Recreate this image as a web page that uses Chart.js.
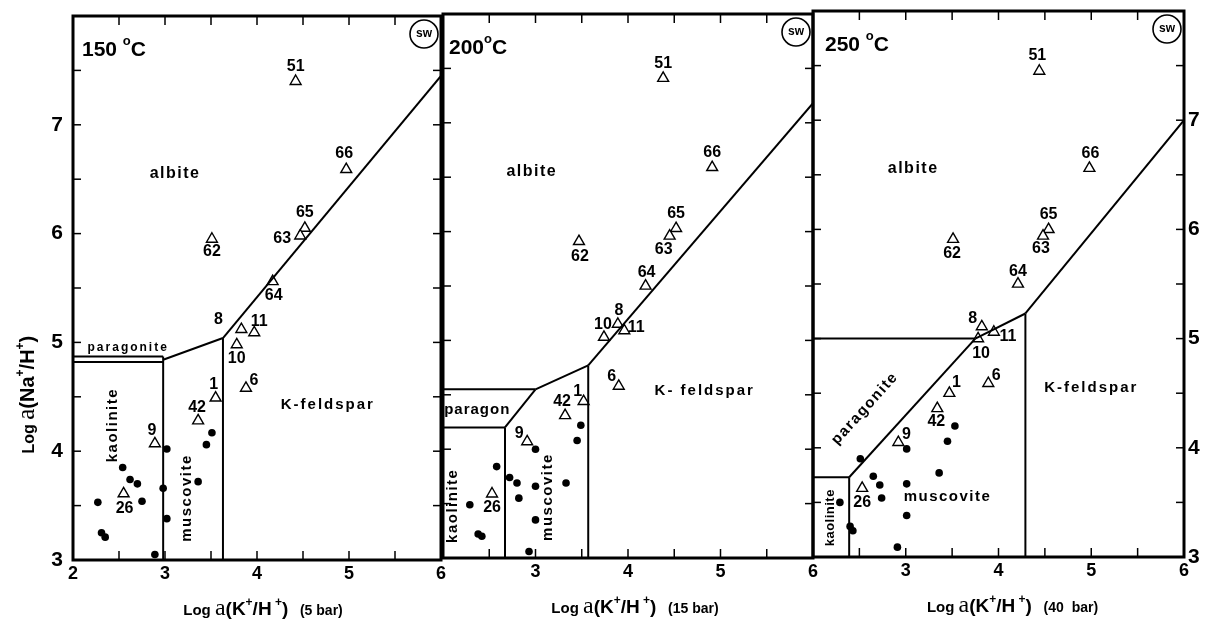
<!DOCTYPE html>
<html>
<head>
<meta charset="utf-8">
<script src="https://cdn.jsdelivr.net/npm/chart.js@4.4.1/dist/chart.umd.min.js"></script>
<style>
  html, body { margin: 0; padding: 0; background: #fff; }
  #wrap { position: relative; width: 1211px; height: 623px; overflow: hidden; background: #fff; }
  .panel { position: absolute; top: 0; }
</style>
</head>
<body>
<div id="wrap">
  <div class="panel" style="left:0px"><canvas id="c150" width="450" height="623"></canvas></div>
  <div class="panel" style="left:430px"><canvas id="c200" width="400" height="623"></canvas></div>
  <div class="panel" style="left:800px"><canvas id="c250" width="411" height="623"></canvas></div>
</div>
<script>
// ---------- DATA ----------
const xTickValues = [2, 3, 4, 5, 6];
const yTickValues = [3, 4, 5, 6, 7];
const sampleIds = ['51', '66', '65', '63', '62', '64', '8', '11', '10', '1', '6', '42', '9', '26'];

// 150 °C (5 bar)
const tri150X = [4.42, 4.97, 4.52, 4.47, 3.51, 4.17, 3.83, 3.97, 3.78, 3.55, 3.88, 3.36, 2.89, 2.55];
const tri150Y = [7.40, 6.59, 6.05, 5.98, 5.95, 5.56, 5.12, 5.09, 4.98, 4.49, 4.58, 4.28, 4.07, 3.61];
const dot150X = [2.27, 2.31, 2.35, 2.54, 2.62, 2.70, 2.75, 2.89, 2.98, 3.02, 3.02, 3.36, 3.45, 3.51];
const dot150Y = [3.53, 3.25, 3.21, 3.85, 3.74, 3.70, 3.54, 3.05, 3.66, 4.02, 3.38, 3.72, 4.06, 4.17];
const b150AlbKfs = [[3.63, 5.04], [6, 7.45]];
const b150MusKfs = [[3.63, 3], [3.63, 5.04]];
const b150AlbMus = [[2.98, 4.84], [3.63, 5.04]];
const b150KaoMus = [[2.98, 3], [2.98, 4.87]];
const b150ParTop = [[2, 4.87], [2.98, 4.87]];
const b150ParBot = [[2, 4.82], [2.98, 4.82]];

// 200 °C (15 bar)
const tri200X = [4.38, 4.91, 4.52, 4.45, 3.47, 4.19, 3.89, 3.96, 3.74, 3.52, 3.90, 3.32, 2.91, 2.53];
const tri200Y = [7.41, 6.59, 6.03, 5.96, 5.91, 5.50, 5.15, 5.09, 5.03, 4.44, 4.58, 4.31, 4.07, 3.59];
const dot200X = [2.29, 2.38, 2.42, 2.58, 2.72, 2.80, 2.82, 2.93, 3.00, 3.00, 3.00, 3.33, 3.45, 3.49];
const dot200Y = [3.49, 3.22, 3.20, 3.84, 3.74, 3.69, 3.55, 3.06, 4.00, 3.66, 3.35, 3.69, 4.08, 4.22];
const b200AlbKfs = [[3.57, 4.77], [6, 7.18]];
const b200MusKfs = [[3.57, 3], [3.57, 4.77]];
const b200AlbMus = [[3.00, 4.55], [3.57, 4.77]];
const b200ParMus = [[2.67, 4.20], [3.00, 4.55]];
const b200ParAlb = [[2, 4.55], [3.00, 4.55]];
const b200KaoPar = [[2, 4.20], [2.67, 4.20]];
const b200KaoMus = [[2.67, 3], [2.67, 4.20]];

// 250 °C (40 bar)
const tri250X = [4.44, 4.98, 4.54, 4.48, 3.51, 4.21, 3.82, 3.95, 3.78, 3.47, 3.89, 3.34, 2.92, 2.53];
const tri250Y = [7.45, 6.56, 6.00, 5.94, 5.91, 5.50, 5.11, 5.06, 5.00, 4.50, 4.59, 4.36, 4.05, 3.63];
const dot250X = [2.29, 2.40, 2.43, 2.51, 2.65, 2.72, 2.74, 2.91, 3.01, 3.01, 3.01, 3.36, 3.45, 3.53];
const dot250Y = [3.50, 3.28, 3.24, 3.90, 3.74, 3.66, 3.54, 3.09, 3.99, 3.67, 3.38, 3.77, 4.06, 4.20];
const b250AlbKfs = [[4.29, 5.23], [6, 7.00]];
const b250AlbMus = [[3.75, 5.00], [4.29, 5.23]];
const b250MusKfs = [[4.29, 3], [4.29, 5.23]];
const b250ParAlb = [[2, 5.00], [3.75, 5.00]];
const b250ParMus = [[2.39, 3.73], [3.75, 5.00]];
const b250KaoPar = [[2, 3.73], [2.39, 3.73]];
const b250KaoMus = [[2.39, 3], [2.39, 3.73]];

// mineral field names (text, x, y)
const fields150 = [['albite', 3.11, 6.55], ['paragonite', 2.60, 4.95], ['kaolinite', 2.43, 4.24], ['muscovite', 3.24, 3.57], ['K-feldspar', 4.77, 4.43]];
const fields200 = [['albite', 2.96, 6.55], ['paragon', 2.37, 4.36], ['kaolinite', 2.11, 3.48], ['muscovite', 3.13, 3.56], ['K- feldspar', 4.83, 4.54]];
const fields250 = [['albite', 3.08, 6.56], ['paragonite', 2.56, 4.36], ['kaolinite', 2.19, 3.36], ['muscovite', 3.45, 3.55], ['K-feldspar', 5.00, 4.55]];

// ---------- STYLE / LAYOUT (not data) ----------
const FONT = '"Liberation Sans", Arial, Helvetica, sans-serif';
const SERIF = '"Liberation Serif", "DejaVu Serif", serif';
// rotation (deg), font size, letter spacing per field label, same order as the field arrays
const fieldStyle150 = [[0, 16, 1.5], [0, 12, 2], [-90, 15, 1.5], [-90, 15, 1.5], [0, 15, 2]];
const fieldStyle200 = [[0, 16, 1.5], [0, 15, 1], [-90, 15, 1.5], [-90, 15, 1.5], [0, 15, 2]];
const fieldStyle250 = [[0, 16, 1.5], [-48, 15, 1.5], [-90, 13, 0.5], [0, 15, 1.5], [0, 15, 2]];
// sample number label offsets in px, same order as sampleIds
const labOff150 = [[0,-15],[-2,-16],[0,-16],[-18,3],[0,13],[1,14],[-23,-10],[5,-11],[0,14],[-2,-13],[8,-8],[-1,-13],[-3,-13],[1,15]];
const labOff200 = [[0,-15],[0,-15],[0,-15],[-6,14],[1,15],[1,-13],[1,-13],[12,-3],[-1,-13],[-6,-10],[-7,-10],[-3,-14],[-8,-8],[0,14]];
const labOff250 = [[-2,-15],[1,-15],[0,-15],[-2,13],[-1,14],[0,-12],[-9,-8],[14,5],[3,15],[7,-11],[8,-8],[-1,13],[8,-8],[0,14]];

function pts(xs, ys) { return xs.map((x, i) => ({ x: x, y: ys[i] })); }
function seg(arr) { return arr.map(p => ({ x: p[0], y: p[1] })); }

function drawParts(ctx, parts, x, y, rot, align) {
  ctx.save();
  ctx.translate(x, y);
  ctx.rotate(rot || 0);
  ctx.textBaseline = 'alphabetic';
  ctx.textAlign = 'left';
  let w = 0;
  parts.forEach(p => { ctx.font = p.f; p.w = ctx.measureText(p.t).width; w += p.w; });
  let cx = align === 'left' ? 0 : -w / 2;
  parts.forEach(p => { ctx.font = p.f; ctx.fillText(p.t, cx, p.dy || 0); cx += p.w; });
  ctx.restore();
}

function kTitle(bar) {
  return [
    { t: 'Log ', f: 'bold 15px ' + FONT },
    { t: 'a', f: '24px ' + SERIF },
    { t: '(K', f: 'bold 19px ' + FONT },
    { t: '+', f: 'bold 12px ' + FONT, dy: -9 },
    { t: '/H', f: 'bold 19px ' + FONT },
    { t: ' +', f: 'bold 12px ' + FONT, dy: -9 },
    { t: ')', f: 'bold 19px ' + FONT },
    { t: bar, f: 'bold 14px ' + FONT }
  ];
}

function makePanel(cfg) {
  const overlay = {
    id: 'overlay_' + cfg.id,
    afterDraw(chart) {
      const ctx = chart.ctx, a = chart.chartArea, xs = chart.scales.x, ys = chart.scales.y;
      ctx.save();
      ctx.strokeStyle = '#000';
      ctx.fillStyle = '#000';
      const line = (x1, y1, x2, y2) => { ctx.beginPath(); ctx.moveTo(x1, y1); ctx.lineTo(x2, y2); ctx.stroke(); };
      // inner tick marks every 0.5
      ctx.lineWidth = 1.5;
      for (let v = 2.5; v < 6; v += 0.5) {
        const px = xs.getPixelForValue(v);
        line(px, a.top, px, a.top + 9);
        line(px, a.bottom, px, a.bottom - 9);
      }
      for (let v = 3.5; v < 8; v += 0.5) {
        const py = ys.getPixelForValue(v);
        line(a.left, py, a.left + 8, py);
        line(a.right, py, a.right - 8, py);
      }
      // frame
      ctx.lineWidth = 3;
      ctx.strokeRect(a.left, a.top, a.right - a.left, a.bottom - a.top);
      // field names
      cfg.fields.forEach((f, i) => {
        const st = cfg.fieldStyle[i];
        ctx.save();
        ctx.translate(xs.getPixelForValue(f[1]), ys.getPixelForValue(f[2]));
        ctx.rotate(st[0] * Math.PI / 180);
        ctx.font = 'bold ' + st[1] + 'px ' + FONT;
        ctx.letterSpacing = st[2] + 'px';
        ctx.textAlign = 'center';
        ctx.textBaseline = 'middle';
        ctx.fillText(f[0], 0, 0);
        ctx.restore();
      });
      // sample numbers
      const meta = chart.getDatasetMeta(cfg.triIndex);
      ctx.font = 'bold 16px ' + FONT;
      ctx.textAlign = 'center';
      ctx.textBaseline = 'middle';
      meta.data.forEach((el, i) => {
        const o = cfg.labOff[i];
        ctx.fillText(sampleIds[i], el.x + o[0], el.y + o[1]);
      });
      // temperature
      drawParts(ctx, [
        { t: cfg.temp, f: 'bold 21px ' + FONT },
        { t: cfg.tempGap, f: 'bold 21px ' + FONT },
        { t: 'o', f: 'bold 13px ' + FONT, dy: -11 },
        { t: 'C', f: 'bold 21px ' + FONT }
      ], a.left + cfg.tempDx, a.top + 40, 0, 'left');
      // SW circle
      const sx = a.right - 17, sy = a.top + 18;
      ctx.lineWidth = 1.6;
      ctx.beginPath(); ctx.arc(sx, sy, 14, 0, Math.PI * 2); ctx.stroke();
      ctx.font = 'bold 12px ' + FONT;
      ctx.textAlign = 'center'; ctx.textBaseline = 'middle';
      ctx.fillText('sw', sx, sy);
      // x-axis title
      drawParts(ctx, kTitle(cfg.bar), (a.left + a.right) / 2 + cfg.titleDx, a.bottom + 55, 0);
      // y-axis title (first panel only)
      if (cfg.yTitle) {
        drawParts(ctx, [
          { t: 'Log ', f: 'bold 16px ' + FONT },
          { t: 'a', f: '25px ' + SERIF },
          { t: '(Na', f: 'bold 20px ' + FONT },
          { t: '+', f: 'bold 12px ' + FONT, dy: -10 },
          { t: '/H', f: 'bold 20px ' + FONT },
          { t: '+', f: 'bold 12px ' + FONT, dy: -10 },
          { t: ')', f: 'bold 20px ' + FONT }
        ], 34, ys.getPixelForValue(4.52), -Math.PI / 2);
      }
      ctx.restore();
    }
  };

  const lineSets = cfg.bounds.map(b => ({
    type: 'line', data: seg(b), borderColor: '#000', borderWidth: 2,
    pointRadius: 0, showLine: true, fill: false, tension: 0
  }));
  const datasets = lineSets.concat([
    { type: 'scatter', data: pts(cfg.dotX, cfg.dotY), pointStyle: 'circle', pointRadius: 3.8,
      backgroundColor: '#000', borderColor: '#000', borderWidth: 0 },
    { type: 'scatter', data: pts(cfg.triX, cfg.triY), pointStyle: 'triangle', pointRadius: 6.3,
      backgroundColor: '#fff', borderColor: '#000', borderWidth: 1.4 }
  ]);
  cfg.triIndex = datasets.length - 1;

  const noPad = s => { s.paddingTop = 0; s.paddingBottom = 0; s.paddingLeft = 0; s.paddingRight = 0; };

  return new Chart(document.getElementById(cfg.id), {
    type: 'scatter',
    data: { datasets: datasets },
    options: {
      responsive: false,
      animation: false,
      devicePixelRatio: 1,
      layout: { padding: cfg.pad },
      plugins: { legend: { display: false }, tooltip: { enabled: false } },
      scales: {
        x: {
          type: 'linear', position: 'bottom', min: 2, max: 6,
          grid: { display: false, drawTicks: false },
          border: { display: false },
          afterBuildTicks: s => { s.ticks = xTickValues.map(v => ({ value: v })); },
          ticks: {
            autoSkip: false, maxRotation: 0, padding: 3, color: '#000',
            font: { family: FONT, size: 18, weight: 'bold' },
            callback: v => cfg.xShow.includes(v) ? String(v) : ''
          },
          afterFit: s => { s.height = cfg.xAxisH; noPad(s); }
        },
        y: {
          type: 'linear', position: cfg.yPos, min: 3, max: 8,
          display: cfg.yShow,
          grid: { display: false, drawTicks: false },
          border: { display: false },
          afterBuildTicks: s => { s.ticks = yTickValues.map(v => ({ value: v })); },
          ticks: {
            autoSkip: false, padding: cfg.yPos === 'left' ? 10 : 4, color: '#000',
            font: { family: FONT, size: 21, weight: 'bold' },
            callback: v => String(v)
          },
          afterFit: s => { s.width = cfg.yAxisW; noPad(s); }
        }
      }
    },
    plugins: [overlay]
  });
}

makePanel({
  id: 'c150', temp: '150', tempGap: ' ', tempDx: 9, bar: '   (5 bar)', titleDx: 6, yTitle: true,
  pad: { left: 0, right: 9, top: 16, bottom: 0 }, xAxisH: 63, yAxisW: 73, yPos: 'left', yShow: true,
  xShow: [2, 3, 4, 5, 6],
  bounds: [b150AlbKfs, b150MusKfs, b150AlbMus, b150KaoMus, b150ParTop, b150ParBot],
  dotX: dot150X, dotY: dot150Y, triX: tri150X, triY: tri150Y,
  fields: fields150, fieldStyle: fieldStyle150, labOff: labOff150
});
makePanel({
  id: 'c200', temp: '200', tempGap: '', tempDx: 6, bar: '   (15 bar)', titleDx: 7, yTitle: false,
  pad: { left: 13, right: 17, top: 14, bottom: 0 }, xAxisH: 65, yAxisW: 0, yPos: 'left', yShow: false,
  xShow: [3, 4, 5, 6],
  bounds: [b200AlbKfs, b200MusKfs, b200AlbMus, b200ParMus, b200ParAlb, b200KaoPar, b200KaoMus],
  dotX: dot200X, dotY: dot200Y, triX: tri200X, triY: tri200Y,
  fields: fields200, fieldStyle: fieldStyle200, labOff: labOff200
});
makePanel({
  id: 'c250', temp: '250', tempGap: ' ', tempDx: 12, bar: '   (40  bar)', titleDx: 14, yTitle: false,
  pad: { left: 13, right: 0, top: 11, bottom: 0 }, xAxisH: 66, yAxisW: 27, yPos: 'right', yShow: true,
  xShow: [3, 4, 5, 6],
  bounds: [b250AlbKfs, b250AlbMus, b250MusKfs, b250ParAlb, b250ParMus, b250KaoPar, b250KaoMus],
  dotX: dot250X, dotY: dot250Y, triX: tri250X, triY: tri250Y,
  fields: fields250, fieldStyle: fieldStyle250, labOff: labOff250
});
</script>
</body>
</html>
